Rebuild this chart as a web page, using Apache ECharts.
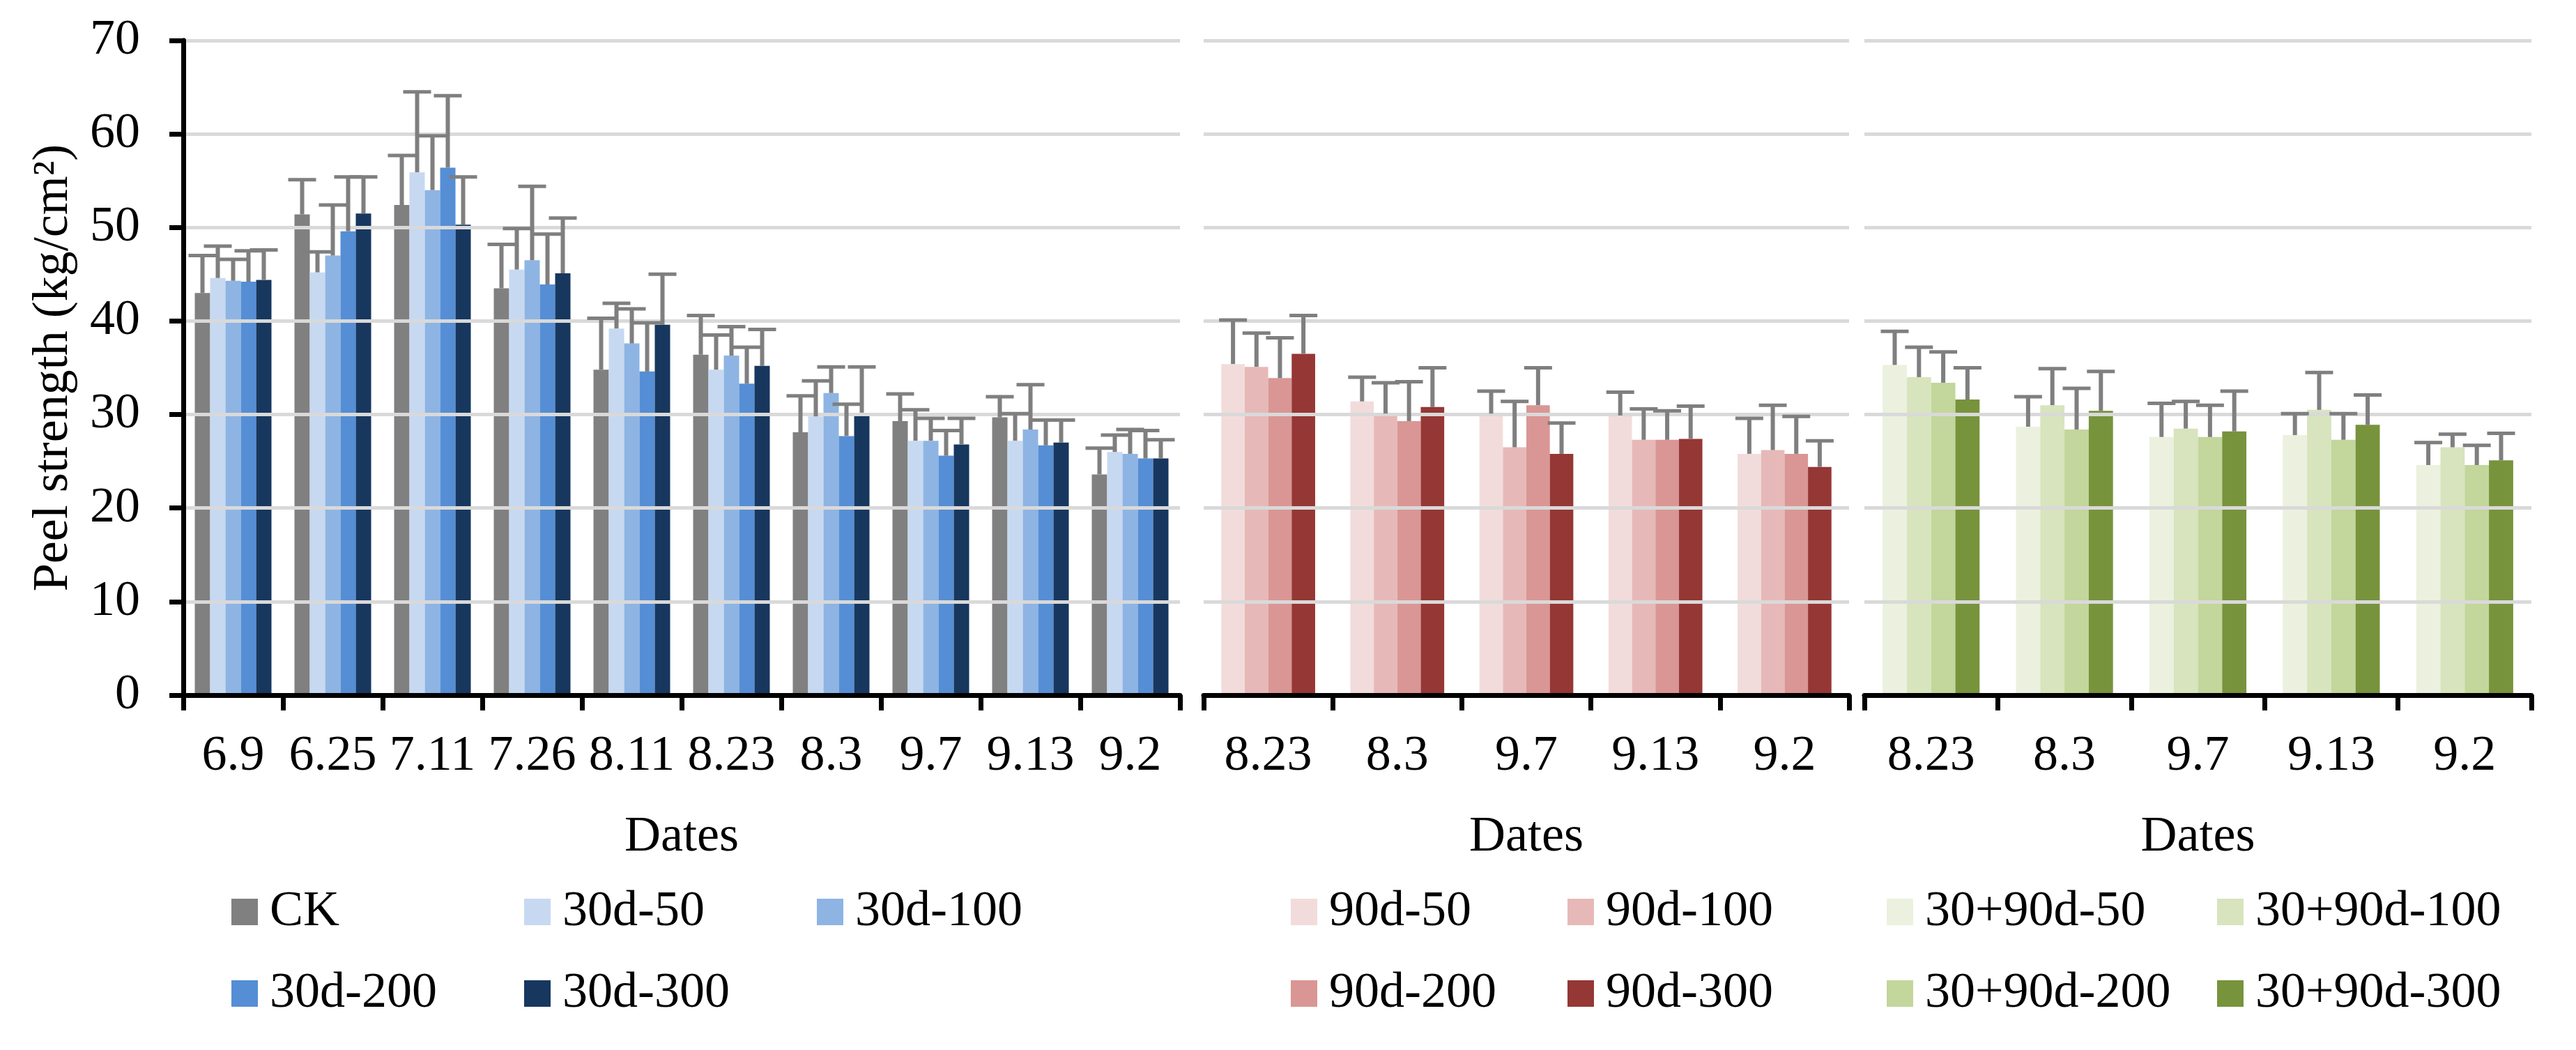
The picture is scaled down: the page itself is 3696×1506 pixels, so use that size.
<!DOCTYPE html>
<html><head><meta charset="utf-8">
<script src="https://cdn.jsdelivr.net/npm/echarts@6/dist/echarts.min.js"></script>
<style>html,body{margin:0;padding:0;background:#fff}#c{width:3696px;height:1506px}</style>
</head><body><div id="c"></div><script>
// ---------------- data ----------------
const datesA = ['6.9','6.25','7.11','7.26','8.11','8.23','8.3','9.7','9.13','9.2'];
const datesB = ['8.23','8.3','9.7','9.13','9.2'];
const yMin = 0, yMax = 70, yStep = 10;

const namesA = ['CK','30d-50','30d-100','30d-200','30d-300'];
const ck      = [43.0, 51.4, 52.4, 43.5, 34.8, 36.4, 28.1, 29.3, 29.7, 23.6];
const ckErr   = [4.0, 3.7, 5.3, 4.7, 5.5, 4.2, 3.9, 2.9, 2.2, 2.8];
const d30_50  = [44.6, 45.2, 55.9, 45.5, 39.2, 34.8, 29.8, 27.2, 27.2, 26.0];
const d30_50E = [3.4, 2.2, 8.6, 4.4, 2.7, 3.7, 3.8, 3.3, 2.9, 1.8];
const d30_100 = [44.3, 47.0, 54.0, 46.5, 37.6, 36.3, 32.3, 27.2, 28.4, 25.8];
const d30_100E= [2.3, 5.4, 5.8, 7.9, 3.7, 3.1, 2.8, 2.4, 4.8, 2.6];
const d30_200 = [44.2, 49.6, 56.4, 43.9, 34.6, 33.3, 27.7, 25.6, 26.7, 25.3];
const d30_200E= [3.3, 5.8, 7.7, 5.4, 5.2, 3.9, 3.4, 2.7, 2.7, 3.0];
const d30_300 = [44.4, 51.5, 50.3, 45.1, 39.6, 35.2, 30.2, 26.8, 27.0, 25.3];
const d30_300E= [3.2, 3.9, 5.1, 5.9, 5.4, 3.9, 4.9, 2.8, 2.4, 2.0];

const namesB = ['90d-50','90d-100','90d-200','90d-300'];
const d90_50  = [35.4, 31.4, 30.1, 29.9, 25.8];
const d90_50E = [4.7, 2.6, 2.4, 2.5, 3.8];
const d90_100 = [35.1, 30.1, 26.5, 27.3, 26.2];
const d90_100E= [3.6, 3.3, 4.9, 3.3, 4.8];
const d90_200 = [33.9, 29.3, 31.0, 27.3, 25.8];
const d90_200E= [4.3, 4.2, 4.0, 3.1, 4.0];
const d90_300 = [36.5, 30.8, 25.8, 27.4, 24.4];
const d90_300E= [4.1, 4.2, 3.3, 3.5, 2.8];

const namesC = ['30+90d-50','30+90d-100','30+90d-200','30+90d-300'];
const c_50   = [35.3, 28.7, 27.6, 27.8, 24.6];
const c_50E  = [3.6, 3.2, 3.6, 2.3, 2.4];
const c_100  = [34.0, 31.0, 28.5, 30.5, 26.5];
const c_100E = [3.2, 3.9, 2.9, 4.0, 1.4];
const c_200  = [33.4, 28.4, 27.6, 27.3, 24.6];
const c_200E = [3.3, 4.4, 3.4, 2.8, 2.1];
const c_300  = [31.6, 30.4, 28.2, 28.9, 25.1];
const c_300E = [3.4, 4.2, 4.3, 3.2, 2.9];

// ---------------- style / layout ----------------
const FONT = '"Liberation Serif", "Times New Roman", serif';
const FS = 72;
const ERR_COLOR = '#7F7F7F';
const colorsA = ['#808080','#C6D9F1','#8EB4E3','#558ED5','#17375E'];
const colorsB = ['#F2DCDB','#E6B9B8','#D99694','#953735'];
const colorsC = ['#EBF1DE','#D7E4BD','#C3D69B','#77933C'];

const panels = [
  {cats: datesA, names: namesA, colors: colorsA, gap: 1.5/6.5,
   vals: [ck, d30_50, d30_100, d30_200, d30_300],
   errs: [ckErr, d30_50E, d30_100E, d30_200E, d30_300E],
   grid: {left: 263, top: 58, width: 1430, height: 939}},
  {cats: datesB, names: namesB, colors: colorsB, gap: 1.5/5.5,
   vals: [d90_50, d90_100, d90_200, d90_300],
   errs: [d90_50E, d90_100E, d90_200E, d90_300E],
   grid: {left: 1727, top: 58, width: 926, height: 939}},
  {cats: datesB, names: namesC, colors: colorsC, gap: 1.5/5.5,
   vals: [c_50, c_100, c_200, c_300],
   errs: [c_50E, c_100E, c_200E, c_300E],
   grid: {left: 2675, top: 58, width: 957, height: 939}}
];

const legendLayout = [
  ['CK', 332, 0], ['30d-50', 752, 0], ['30d-100', 1172, 0],
  ['30d-200', 332, 1], ['30d-300', 752, 1],
  ['90d-50', 1852, 0], ['90d-100', 2249, 0],
  ['90d-200', 1852, 1], ['90d-300', 2249, 1],
  ['30+90d-50', 2707, 0], ['30+90d-100', 3181, 0],
  ['30+90d-200', 2707, 1], ['30+90d-300', 3181, 1]
];
const legendRowTop = [1272, 1389];

// ---------------- build option ----------------
const grid = [], xAxis = [], yAxis = [], series = [];
panels.forEach((p, g) => {
  grid.push(Object.assign({containLabel: false}, p.grid));
  xAxis.push({
    type: 'category', gridIndex: g, data: p.cats, boundaryGap: true, z: 5,
    axisLine: {show: true, lineStyle: {color: '#000', width: 7}},
    axisTick: {show: true, length: 22, alignWithLabel: false, lineStyle: {color: '#000', width: 7}},
    axisLabel: {fontFamily: FONT, fontSize: FS, color: '#000', margin: 52, interval: 0},
    name: 'Dates', nameLocation: 'middle', nameGap: 168,
    nameTextStyle: {fontFamily: FONT, fontSize: FS, color: '#000'}
  });
  const first = g === 0;
  yAxis.push({
    type: 'value', gridIndex: g, min: yMin, max: yMax, interval: yStep, z: 5,
    axisLine: {show: first, lineStyle: {color: '#000', width: 7}},
    axisTick: {show: first, length: 20, lineStyle: {color: '#000', width: 7}},
    axisLabel: {show: first, fontFamily: FONT, fontSize: FS, color: '#000', margin: 62},
    splitLine: {show: true, lineStyle: {color: '#D9D9D9', width: 5}},
    name: first ? 'Peel strength (kg/cm\u00B2)' : '',
    nameLocation: 'middle', nameGap: 150,
    nameTextStyle: {fontFamily: FONT, fontSize: FS, color: '#000'}
  });
  const n = p.names.length;
  p.names.forEach((nm, k) => {
    series.push({
      type: 'bar', name: nm, xAxisIndex: g, yAxisIndex: g,
      data: p.vals[k], barGap: '0%', barCategoryGap: (p.gap * 100).toFixed(3) + '%',
      itemStyle: {color: p.colors[k]}, z: 2, emphasis: {disabled: true}
    });
  });
  p.names.forEach((nm, k) => {
    const gap = p.gap;
    series.push({
      type: 'custom', xAxisIndex: g, yAxisIndex: g, z: 10, silent: true,
      data: p.vals[k].map((v, i) => [i, v, v + p.errs[k][i]]),
      encode: {x: 0, y: [1, 2]},
      renderItem: function (params, api) {
        const ci = api.value(0);
        const base = api.coord([ci, api.value(1)]);
        const top = api.coord([ci, api.value(2)]);
        const band = api.size([1, 0])[0];
        const groupW = band * (1 - gap);
        const bw = groupW / n;
        const cx = base[0] - groupW / 2 + (k + 0.5) * bw;
        const half = 20;
        return {type: 'group', children: [
          {type: 'line', shape: {x1: cx, y1: base[1], x2: cx, y2: top[1]},
           style: {stroke: ERR_COLOR, lineWidth: 6}},
          {type: 'line', shape: {x1: cx - half, y1: top[1], x2: cx + half, y2: top[1]},
           style: {stroke: ERR_COLOR, lineWidth: 5}}
        ]};
      }
    });
  });
});

const legend = legendLayout.map(([nm, left, row]) => ({
  data: [nm], left: left, top: legendRowTop[row], padding: 0,
  icon: 'rect', itemWidth: 38, itemHeight: 38, selectedMode: false,
  textStyle: {fontFamily: FONT, fontSize: FS, color: '#000', padding: [0, 0, 0, 12]}
}));

const chart = echarts.init(document.getElementById('c'), null, {renderer: 'canvas'});
chart.setOption({
  animation: false, backgroundColor: '#fff',
  grid, xAxis, yAxis, series, legend
});
</script></body></html>
